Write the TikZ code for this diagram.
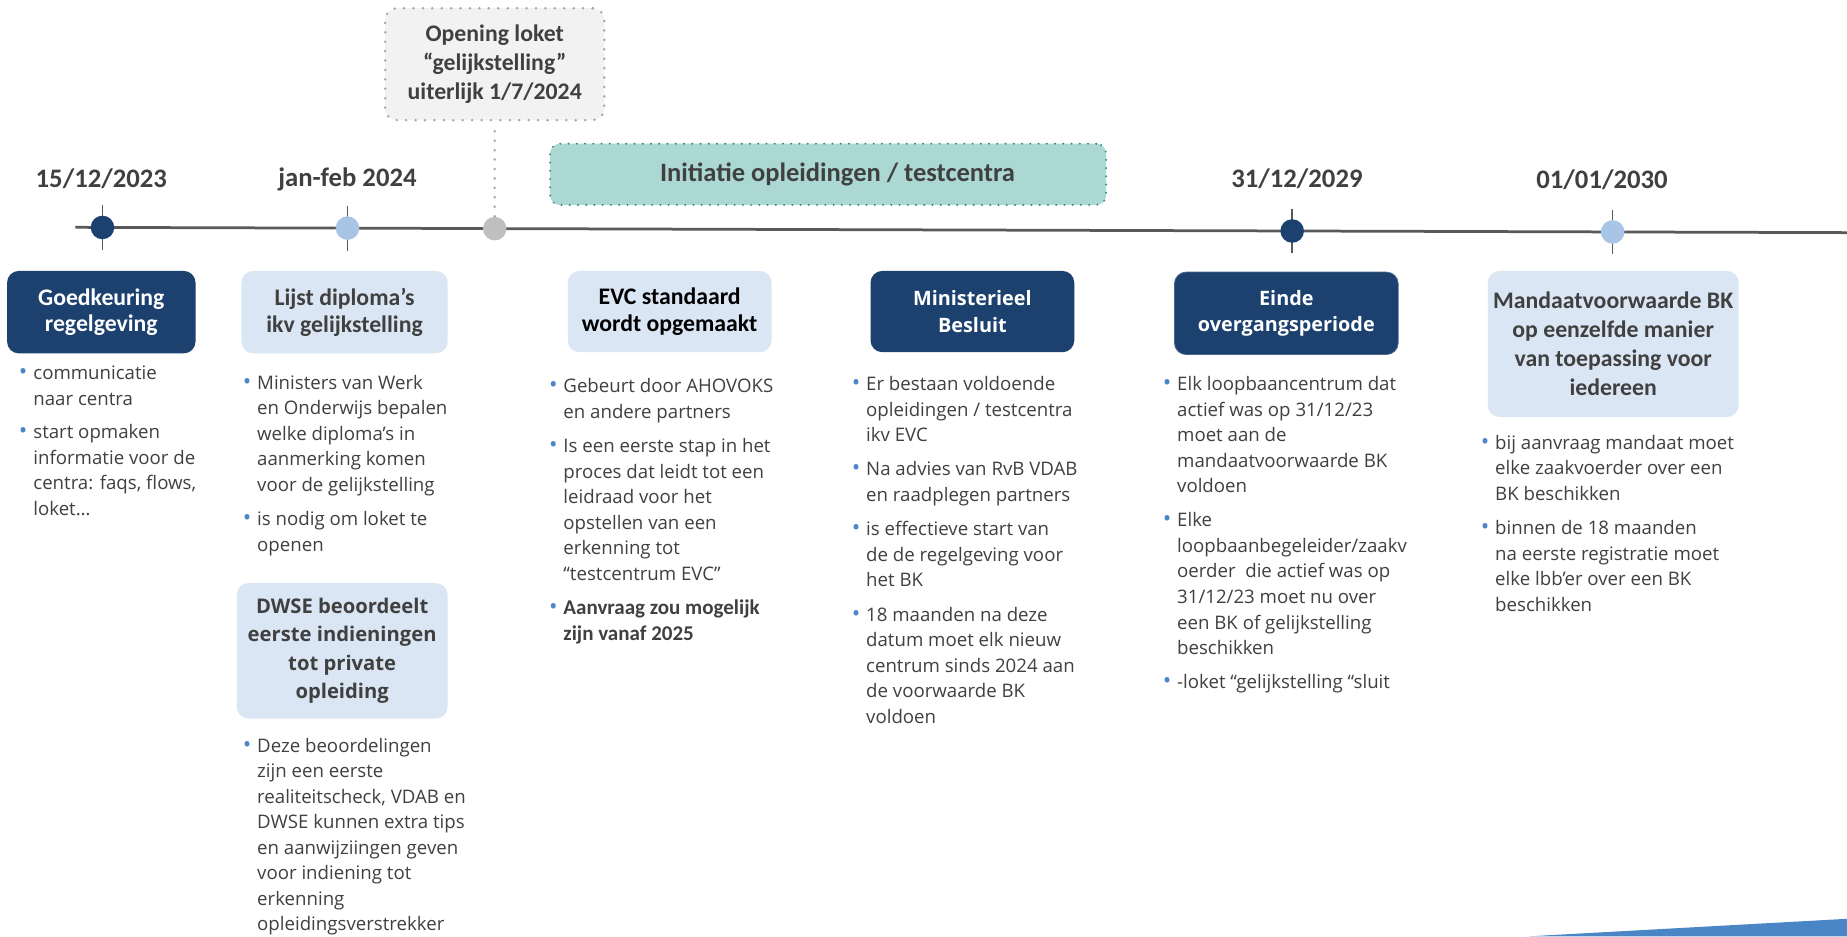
\documentclass[tikz,border=0pt]{standalone}
\usepackage{fontspec}
\setmainfont{Carlito}
\newfontfamily\opensans{Open Sans}

\definecolor{navy}{HTML}{1C416F}
\definecolor{paleblue}{HTML}{DAE6F3}
\definecolor{dotblue}{HTML}{A9C5E6}
\definecolor{dotgray}{HTML}{BFBFBF}
\definecolor{boxgray}{HTML}{F2F2F2}
\definecolor{bordergray}{HTML}{A6A6A6}
\definecolor{bandfill}{HTML}{ABD8D2}
\definecolor{bandborder}{HTML}{2E8B7F}
\definecolor{textgray}{HTML}{404040}
\definecolor{linegray}{HTML}{595959}
\definecolor{bulletblue}{HTML}{4A86C8}
\definecolor{cornerblue}{HTML}{4A86C5}

\newcommand{\bodyfont}{\opensans\fontsize{9.5}{13}\selectfont}
\newcommand{\boldbody}{\normalfont\bfseries\fontsize{10.7}{13}\selectfont}
\newcommand{\titlefont}{\bfseries\fontsize{12.1}{13.6}\selectfont}
\newcommand{\tallfont}{\bfseries\fontsize{12.1}{14.7}\selectfont}
\newcommand{\widefont}{\opensans\bfseries\fontsize{10.1}{13.6}\selectfont}
\newcommand{\dwsefont}{\opensans\bfseries\fontsize{10.3}{14.5}\selectfont}
\newcommand{\datefont}{\bfseries\fontsize{13.6}{16}\selectfont}
\newcommand{\bandfont}{\bfseries\fontsize{13.5}{16}\selectfont}
\newcommand{\bul}{\strut\llap{\textcolor{bulletblue}{\fontsize{11.5}{13}\selectfont\textbullet}\hspace{3pt}}}

\tikzset{
  darkbox/.style={fill=navy, text=white, rounded corners=6pt, align=center, inner sep=0pt, font=\titlefont},
  lightbox/.style={fill=paleblue, text=textgray, rounded corners=6pt, align=center, inner sep=0pt, font=\titlefont},
  openbox/.style={fill=boxgray, draw=bordergray, line width=1.4pt, line cap=round, dash pattern=on 0pt off 4.8pt,
    rounded corners=6pt, text=textgray, align=center, inner sep=0pt, font=\tallfont},
  bandbox/.style={fill=bandfill, draw=bandborder, line width=1.1pt, line cap=round, dash pattern=on 0pt off 4.2pt,
    rounded corners=5pt, text=textgray, inner sep=0pt, font=\bandfont},
  datelabel/.style={font=\datefont, text=textgray, inner sep=0pt},
  bullets/.style={anchor=north west, align=left, inner sep=0pt, font=\bodyfont, text=textgray},
  milestone/.style={circle, minimum size=12pt, inner sep=0pt},
  tick/.style={linegray, line width=0.8pt},
  timeline/.style={linegray, line width=1.4pt},
  dotconn/.style={bordergray, line width=1.4pt, line cap=round, dash pattern=on 0pt off 4.8pt}
}

\begin{document}
\begin{tikzpicture}[x=0.6pt, y=-0.6pt]
\path[use as bounding box, fill=white] (0,0) rectangle (1568,795);

% timeline
\coordinate (tl-w) at (64,193);
\coordinate (tl-e) at (1568,197.5);
\draw[timeline] (tl-w) -- (tl-e);

\foreach \px/\py/\col/\name in {87/193.1/navy/m-goed, 295/193.7/dotblue/m-lijst,
                                1097/196.1/navy/m-einde, 1369/196.9/dotblue/m-mandaat}
{
  \draw[tick] (\px,{\py-19}) -- (\px,{\py+19});
  \node[milestone, fill=\col] (\name) at (\px,\py) {};
}
\node[milestone, fill=dotgray] (m-loket) at (420,194.1) {};

% dates
\node[datelabel] (date-goed) at (86,152) {15/12/2023};
\node[datelabel] (date-lijst) at (295,152) {jan-feb 2024};
\node[datelabel] (date-einde) at (1101,152) {31/12/2029};
\node[datelabel] (date-mandaat) at (1360,153) {01/01/2030};

% boxes above the line
\node[openbox, minimum width=111.6pt, minimum height=57pt] (opening) at (420,54.5)
  {Opening loket\\“gelijkstelling”\\uiterlijk 1/7/2024};
\node[bandbox, minimum width=283.2pt, minimum height=31.2pt] (initiatie) at (703,148)
  {\hspace{9.6pt}Initiatie opleidingen / testcentra};
\draw[dotconn, shorten <=5pt] (opening.south) -- (m-loket.north);

% boxes below the line
\node[darkbox, minimum width=96pt, minimum height=42pt] (goedkeuring) at (86,265)
  {Goedkeuring\\regelgeving};
\node[lightbox, minimum width=105pt, minimum height=42pt] (lijst) at (292.5,265)
  {Lijst diploma’s\\ikv gelijkstelling};
\node[lightbox, text=black, minimum width=103.8pt, minimum height=41.4pt] (evc) at (568.5,264.5)
  {EVC standaard\\wordt opgemaakt};
\node[darkbox, font=\widefont, minimum width=103.8pt, minimum height=41.4pt] (besluit) at (825.5,264.5)
  {Ministerieel\\Besluit};
\node[darkbox, font=\widefont, draw=navy!80!white, minimum width=114pt, minimum height=42pt] (einde) at (1092,266)
  {Einde\\overgangsperiode};
\node[lightbox, font=\tallfont, minimum width=127.8pt, minimum height=74.4pt] (mandaat) at (1369.5,292)
  {Mandaatvoorwaarde BK\\op eenzelfde manier\\van toepassing voor\\iedereen};
\node[lightbox, font=\dwsefont, minimum width=107.4pt, minimum height=69pt] (dwse) at (290.5,552.5)
  {DWSE beoordeelt\\eerste indieningen\\tot private\\opleiding};

% bullet lists
\node[bullets] (l-goed) at (28,307)
  {\bul communicatie\\naar centra\\[4pt]\bul start opmaken\\informatie voor de\\centra: faqs, flows,\\loket…};
\node[bullets] (l-lijst) at (218,315)
  {\bul Ministers van Werk\\en Onderwijs bepalen\\welke diploma’s in\\aanmerking komen\\voor de gelijkstelling\\[4.5pt]%
   \bul is nodig om loket te\\openen};
\node[bullets] (l-dwse) at (218,623)
  {\bul Deze beoordelingen\\zijn een eerste\\realiteitscheck, VDAB en\\DWSE kunnen extra tips\\en aanwijziingen geven\\%
   voor indiening tot\\erkenning\\opleidingsverstrekker};
\node[bullets] (l-evc) at (478,318)
  {\bul Gebeurt door AHOVOKS\\en andere partners\\[4.5pt]%
   \bul Is een eerste stap in het\\proces dat leidt tot een\\leidraad voor het\\opstellen van een\\erkenning tot\\“testcentrum EVC”\\[4.5pt]%
   \bul{\boldbody Aanvraag zou mogelijk}\\{\boldbody zijn vanaf 2025}};
\node[bullets] (l-besluit) at (735,316)
  {\bul Er bestaan voldoende\\opleidingen / testcentra\\ikv EVC\\[4.5pt]%
   \bul Na advies van RvB VDAB\\en raadplegen partners\\[4.5pt]%
   \bul is effectieve start van\\de de regelgeving voor\\het BK\\[4.5pt]%
   \bul 18 maanden na deze\\datum moet elk nieuw\\centrum sinds 2024 aan\\de voorwaarde BK\\voldoen};
\node[bullets] (l-einde) at (999,316)
  {\bul Elk loopbaancentrum dat\\actief was op 31/12/23\\moet aan de\\mandaatvoorwaarde BK\\voldoen\\[4.5pt]%
   \bul Elke\\loopbaanbegeleider/zaakv\\oerder\ \ die actief was op\\31/12/23 moet nu over\\een BK of gelijkstelling\\beschikken\\[4.5pt]%
   \bul -loket “gelijkstelling “sluit};
\node[bullets] (l-mandaat) at (1269,366)
  {\bul bij aanvraag mandaat moet\\elke zaakvoerder over een\\BK beschikken\\[4.5pt]%
   \bul binnen de 18 maanden\\na eerste registratie moet\\elke lbb’er over een BK\\beschikken};

% corner accent
\fill[cornerblue] (1296,795) -- (1568,780) -- (1568,795) -- cycle;
\end{tikzpicture}
\end{document}
